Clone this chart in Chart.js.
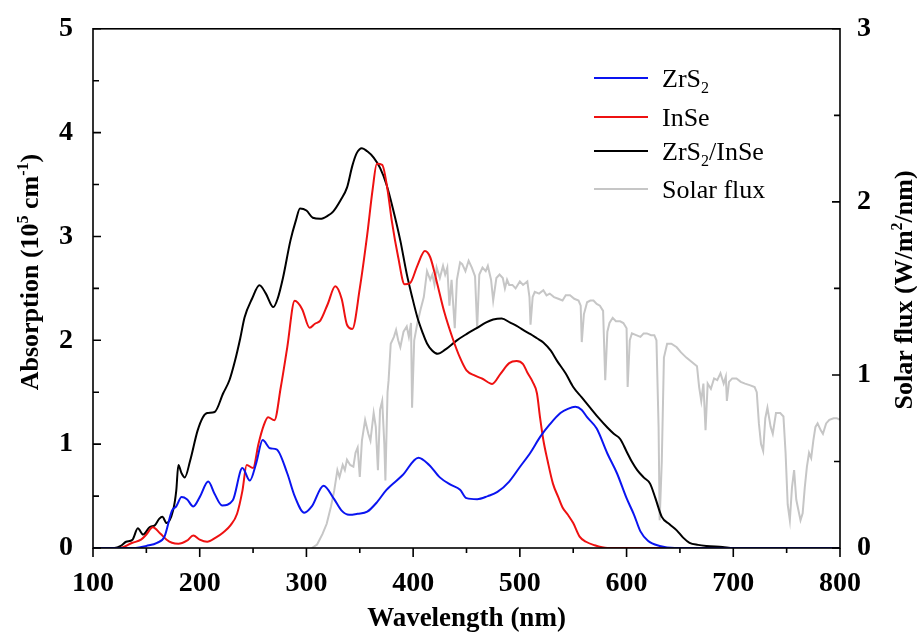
<!DOCTYPE html>
<html>
<head>
<meta charset="utf-8">
<script src="https://cdn.jsdelivr.net/npm/chart.js@4.4.0/dist/chart.umd.min.js"></script>
<style>
  html, body { margin: 0; padding: 0; background: #fff; }
  #wrap { width: 917px; height: 635px; position: relative; }
</style>
</head>
<body>
<div id="wrap"><canvas id="absChart"></canvas></div>
<script>
/* ---------------------------------------------------------
   Data (wavelength in nm)
   --------------------------------------------------------- */
var zrs2Wl  = [100, 140, 150, 160, 167, 174, 178, 183, 188, 194, 200, 208, 214, 221, 231, 240, 247, 253, 259, 266, 272, 282, 289, 298, 305, 316, 326, 333, 340, 348, 357, 366, 375, 390, 405, 415, 425, 435, 444, 450, 460, 470, 479, 490, 500, 510, 519, 528, 538, 545, 552, 558, 563, 572, 582, 591, 600, 607, 613, 620, 631, 645, 800];
var zrs2Abs = [0, 0, 0.02, 0.05, 0.11, 0.36, 0.40, 0.49, 0.47, 0.40, 0.49, 0.64, 0.52, 0.41, 0.46, 0.77, 0.65, 0.82, 1.04, 0.96, 0.95, 0.72, 0.50, 0.34, 0.40, 0.60, 0.47, 0.36, 0.32, 0.33, 0.35, 0.44, 0.56, 0.70, 0.87, 0.80, 0.68, 0.61, 0.56, 0.48, 0.47, 0.50, 0.54, 0.64, 0.78, 0.92, 1.07, 1.19, 1.30, 1.34, 1.36, 1.33, 1.26, 1.15, 0.91, 0.72, 0.48, 0.32, 0.16, 0.07, 0.02, 0, 0];

var inseWl  = [100, 125, 137, 145, 150, 156, 163, 169, 174, 180, 188, 194, 200, 207, 215, 222, 229, 235, 240, 244, 250, 255, 260, 264, 270, 276, 282, 289, 296, 303, 308, 313, 320, 327, 333, 338, 343, 350, 357, 362, 366, 371, 376, 380, 386, 392, 397, 404, 411, 416, 422, 429, 437, 444, 450, 458, 465, 474, 482, 490, 497, 503, 507, 512, 516, 519, 522, 526, 531, 536, 540, 545, 550, 556, 562, 569, 582, 800];
var inseAbs = [0, 0, 0.05, 0.08, 0.13, 0.20, 0.14, 0.08, 0.05, 0.04, 0.07, 0.12, 0.08, 0.06, 0.10, 0.15, 0.22, 0.33, 0.55, 0.80, 0.77, 1.00, 1.18, 1.26, 1.23, 1.55, 1.93, 2.38, 2.30, 2.12, 2.16, 2.19, 2.35, 2.52, 2.40, 2.15, 2.11, 2.50, 3.02, 3.45, 3.70, 3.69, 3.45, 3.15, 2.80, 2.54, 2.55, 2.72, 2.86, 2.80, 2.57, 2.28, 2.02, 1.83, 1.71, 1.66, 1.63, 1.58, 1.68, 1.78, 1.80, 1.77, 1.69, 1.60, 1.49, 1.25, 1.04, 0.84, 0.62, 0.49, 0.39, 0.32, 0.24, 0.11, 0.06, 0.03, 0, 0];

var heteroWl  = [100, 120, 126, 131, 137, 142, 147, 153, 158, 162, 165, 169, 175, 178, 180, 183, 186, 191, 198, 203, 207, 214, 222, 228, 233, 238, 242, 249, 256, 262, 269, 273, 278, 285, 290, 294, 300, 306, 313, 320, 325, 332, 338, 343, 347, 352, 357, 363, 369, 375, 381, 388, 394, 399, 404, 409, 413, 418, 423, 430, 441, 450, 460, 468, 475, 483, 491, 497, 503, 510, 516, 522, 529, 535, 543, 550, 558, 566, 574, 582, 588, 594, 600, 605, 610, 616, 622, 627, 633, 640, 647, 653, 659, 667, 675, 690, 700, 800];
var heteroAbs = [0, 0, 0.02, 0.06, 0.08, 0.19, 0.13, 0.20, 0.22, 0.28, 0.30, 0.24, 0.36, 0.55, 0.80, 0.72, 0.68, 0.84, 1.13, 1.26, 1.30, 1.31, 1.49, 1.62, 1.80, 2.02, 2.22, 2.40, 2.53, 2.45, 2.32, 2.40, 2.60, 2.96, 3.15, 3.27, 3.25, 3.18, 3.17, 3.20, 3.24, 3.35, 3.47, 3.68, 3.80, 3.85, 3.82, 3.76, 3.66, 3.50, 3.27, 2.96, 2.64, 2.42, 2.22, 2.07, 1.97, 1.90, 1.87, 1.91, 2.00, 2.06, 2.12, 2.17, 2.20, 2.21, 2.17, 2.14, 2.10, 2.06, 2.02, 1.98, 1.90, 1.80, 1.68, 1.55, 1.45, 1.35, 1.25, 1.16, 1.10, 1.05, 0.93, 0.83, 0.75, 0.68, 0.62, 0.48, 0.30, 0.23, 0.17, 0.10, 0.05, 0.03, 0.02, 0.01, 0, 0];

var solarWl   = [305, 310, 315, 319, 323, 326, 329, 331, 334, 336, 338, 341, 344, 346, 348, 350, 352, 355, 358, 360, 363, 365, 367, 369, 371, 373, 374, 376, 377, 379, 382, 384, 386, 388, 391, 394, 396, 398, 399, 401, 404, 407, 410, 413, 416, 418, 420, 422, 425, 428, 430, 432, 434, 436, 439, 441, 444, 446, 449, 452, 455, 458, 460, 462, 465, 468, 470, 473, 475, 478, 481, 484, 486, 488, 490, 493, 496, 500, 503, 507, 509, 510, 512, 514, 518, 522, 525, 528, 532, 536, 540, 543, 547, 551, 555, 557, 558, 560, 563, 566, 569, 572, 575, 578, 580, 582, 584, 587, 590, 594, 597, 600, 601, 603, 605, 609, 613, 616, 619, 623, 626, 628, 630, 631, 633, 635, 638, 642, 647, 651, 656, 660, 664, 666, 668, 670, 672, 674, 676, 679, 682, 685, 688, 691, 693, 694, 696, 699, 703, 707, 711, 716, 720, 722, 724, 726, 728, 730, 732, 735, 737, 740, 744, 747, 749, 751, 753, 755, 757, 759, 761, 763, 765, 767, 769, 771, 773, 775, 777, 779, 782, 784, 787, 790, 794, 797, 800];
var solarFlux = [0, 0.02, 0.08, 0.14, 0.24, 0.33, 0.45, 0.41, 0.48, 0.45, 0.51, 0.48, 0.47, 0.55, 0.58, 0.41, 0.62, 0.74, 0.66, 0.62, 0.78, 0.70, 0.45, 0.80, 0.85, 0.60, 0.39, 0.90, 0.97, 1.18, 1.22, 1.26, 1.20, 1.16, 1.25, 1.28, 1.22, 1.30, 0.81, 1.20, 1.30, 1.38, 1.45, 1.60, 1.55, 1.58, 1.52, 1.62, 1.56, 1.63, 1.58, 1.62, 1.40, 1.55, 1.27, 1.55, 1.65, 1.64, 1.60, 1.66, 1.62, 1.57, 1.27, 1.58, 1.62, 1.60, 1.63, 1.55, 1.43, 1.56, 1.58, 1.56, 1.50, 1.55, 1.52, 1.52, 1.50, 1.54, 1.52, 1.54, 1.45, 1.29, 1.45, 1.48, 1.47, 1.49, 1.46, 1.47, 1.45, 1.44, 1.43, 1.46, 1.46, 1.44, 1.43, 1.40, 1.19, 1.35, 1.42, 1.43, 1.43, 1.41, 1.40, 1.37, 0.97, 1.25, 1.30, 1.33, 1.31, 1.31, 1.30, 1.27, 0.93, 1.20, 1.24, 1.23, 1.22, 1.24, 1.24, 1.23, 1.23, 1.20, 0.70, 0.16, 0.50, 1.10, 1.18, 1.18, 1.16, 1.13, 1.10, 1.08, 1.06, 1.05, 0.93, 0.85, 0.95, 0.68, 0.95, 0.92, 0.98, 0.97, 1.01, 0.95, 0.99, 0.85, 0.96, 0.98, 0.98, 0.96, 0.95, 0.94, 0.93, 0.90, 0.72, 0.60, 0.56, 0.75, 0.81, 0.70, 0.66, 0.78, 0.78, 0.76, 0.55, 0.25, 0.16, 0.35, 0.45, 0.28, 0.22, 0.16, 0.20, 0.35, 0.47, 0.55, 0.52, 0.62, 0.70, 0.72, 0.68, 0.66, 0.72, 0.74, 0.75, 0.75, 0.74];

var seriesLabels = ['ZrS₂', 'InSe', 'ZrS₂/InSe', 'Solar flux'];
var seriesColors = ['#0a14f0', '#ee1111', '#000000', '#c6c6c6'];

var xTicks    = [100, 200, 300, 400, 500, 600, 700, 800];
var absTicks  = [0, 1, 2, 3, 4, 5];
var fluxTicks = [0, 1, 2, 3];

var FONT = "'Liberation Serif', 'Times New Roman', serif";

function toPoints(xs, ys) {
  return xs.map(function (v, i) { return { x: v, y: ys[i] }; });
}

/* rich text: ₂ -> subscript, ⁵ ⁻ ¹ ² -> superscript */
var SUB = { '₂': '2' };
var SUP = { '⁵': '5', '⁻': '-', '¹': '1', '²': '2' };

function textRuns(text) {
  var runs = [];
  for (var i = 0; i < text.length; i++) {
    var ch = text[i], mode = 0;
    if (SUB[ch]) { mode = -1; ch = SUB[ch]; }
    else if (SUP[ch]) { mode = 1; ch = SUP[ch]; }
    var last = runs[runs.length - 1];
    if (last && last.mode === mode) last.t += ch;
    else runs.push({ t: ch, mode: mode });
  }
  return runs;
}

function drawRich(ctx, text, x, y, size, weight, align) {
  var runs = textRuns(text);
  var small = Math.round(size * 0.62);
  var total = 0;
  runs.forEach(function (r) {
    ctx.font = weight + ' ' + (r.mode ? small : size) + 'px ' + FONT;
    r.w = ctx.measureText(r.t).width;
    total += r.w;
  });
  var cx = align === 'center' ? x - total / 2 : x;
  ctx.textAlign = 'left';
  ctx.textBaseline = 'alphabetic';
  runs.forEach(function (r) {
    ctx.font = weight + ' ' + (r.mode ? small : size) + 'px ' + FONT;
    var dy = r.mode === -1 ? size * 0.22 : (r.mode === 1 ? -size * 0.38 : 0);
    ctx.fillText(r.t, cx, y + dy);
    cx += r.w;
  });
}

/* frame, inward/outward ticks, y titles, legend */
var frameTicksPlugin = {
  id: 'frameTicks',
  afterDatasetsDraw: function (chart) {
    var ctx = chart.ctx, a = chart.chartArea;
    var sx = chart.scales.x, sy = chart.scales.y, sy1 = chart.scales.y1;
    ctx.save();
    ctx.strokeStyle = '#000';
    ctx.lineWidth = 1.6;
    ctx.strokeRect(a.left, a.top, a.right - a.left, a.bottom - a.top);

    ctx.beginPath();
    xTicks.forEach(function (v, i) {
      var px = sx.getPixelForValue(v);
      ctx.moveTo(px, a.bottom); ctx.lineTo(px, a.bottom + 9);
      if (i < xTicks.length - 1) {
        var pm = sx.getPixelForValue((v + xTicks[i + 1]) / 2);
        ctx.moveTo(pm, a.bottom); ctx.lineTo(pm, a.bottom + 5);
      }
    });
    absTicks.forEach(function (v, i) {
      var py = sy.getPixelForValue(v);
      ctx.moveTo(a.left, py); ctx.lineTo(a.left + 8, py);
      if (i < absTicks.length - 1) {
        var pm = sy.getPixelForValue((v + absTicks[i + 1]) / 2);
        ctx.moveTo(a.left, pm); ctx.lineTo(a.left + 6, pm);
      }
    });
    fluxTicks.forEach(function (v, i) {
      var py = sy1.getPixelForValue(v);
      ctx.moveTo(a.right, py); ctx.lineTo(a.right - 8, py);
      if (i < fluxTicks.length - 1) {
        var pm = sy1.getPixelForValue((v + fluxTicks[i + 1]) / 2);
        ctx.moveTo(a.right, pm); ctx.lineTo(a.right - 6, pm);
      }
    });
    ctx.stroke();

    // y axis titles, both reading bottom to top
    ctx.fillStyle = '#000';
    ctx.save();
    ctx.translate(38, 272);
    ctx.rotate(-Math.PI / 2);
    drawRich(ctx, 'Absorption (10⁵ cm⁻¹)', 0, 0, 26, 'bold', 'center');
    ctx.restore();
    ctx.save();
    ctx.translate(912, 290);
    ctx.rotate(-Math.PI / 2);
    drawRich(ctx, 'Solar flux (W/m²/nm)', 0, 0, 26, 'bold', 'center');
    ctx.restore();

    // legend
    var rows = [78, 117, 151, 189];
    chart.data.datasets.forEach(function (ds, i) {
      ctx.strokeStyle = ds.borderColor;
      ctx.lineWidth = 2;
      ctx.beginPath();
      ctx.moveTo(594, rows[i]); ctx.lineTo(648, rows[i]);
      ctx.stroke();
      ctx.fillStyle = '#000';
      drawRich(ctx, ds.label, 662, rows[i] + 9, 26, 'normal', 'left');
    });
    ctx.restore();
  }
};

function makeSet(i, xs, ys, axis) {
  return {
    label: seriesLabels[i],
    data: toPoints(xs, ys),
    borderColor: seriesColors[i],
    backgroundColor: seriesColors[i],
    borderWidth: 2,
    pointRadius: 0,
    cubicInterpolationMode: axis === 'y' ? 'monotone' : 'default',
    tension: 0,
    yAxisID: axis
  };
}

new Chart(document.getElementById('absChart'), {
  type: 'line',
  data: {
    datasets: [
      makeSet(0, zrs2Wl, zrs2Abs, 'y'),
      makeSet(1, inseWl, inseAbs, 'y'),
      makeSet(2, heteroWl, heteroAbs, 'y'),
      makeSet(3, solarWl, solarFlux, 'y1')
    ]
  },
  options: {
    responsive: true,
    maintainAspectRatio: false,
    animation: false,
    layout: { padding: { top: 27, left: 0, right: 0, bottom: 0 } },
    plugins: { legend: { display: false }, tooltip: { enabled: false } },
    scales: {
      x: {
        type: 'linear',
        min: 100,
        max: 800,
        afterBuildTicks: function (s) { s.ticks = xTicks.map(function (v) { return { value: v }; }); },
        afterFit: function (s) { s.height = 87; },
        ticks: { color: '#000', padding: 11, font: { family: FONT, size: 28, weight: 'bold' } },
        grid: { display: false },
        border: { display: false },
        title: { display: true, text: 'Wavelength (nm)', color: '#000', padding: { top: 0, bottom: 0 }, font: { family: FONT, size: 27, weight: 'bold' } }
      },
      y: {
        position: 'left',
        min: 0,
        max: 5,
        afterBuildTicks: function (s) { s.ticks = absTicks.map(function (v) { return { value: v }; }); },
        afterFit: function (s) { s.width = 93; },
        ticks: { color: '#000', padding: 12, font: { family: FONT, size: 28, weight: 'bold' } },
        grid: { display: false },
        border: { display: false }
      },
      y1: {
        position: 'right',
        min: 0,
        max: 3,
        afterBuildTicks: function (s) { s.ticks = fluxTicks.map(function (v) { return { value: v }; }); },
        afterFit: function (s) { s.width = 77; },
        ticks: { color: '#000', padding: 9, font: { family: FONT, size: 28, weight: 'bold' } },
        grid: { display: false },
        border: { display: false }
      }
    }
  },
  plugins: [frameTicksPlugin]
});
</script>
</body>
</html>
